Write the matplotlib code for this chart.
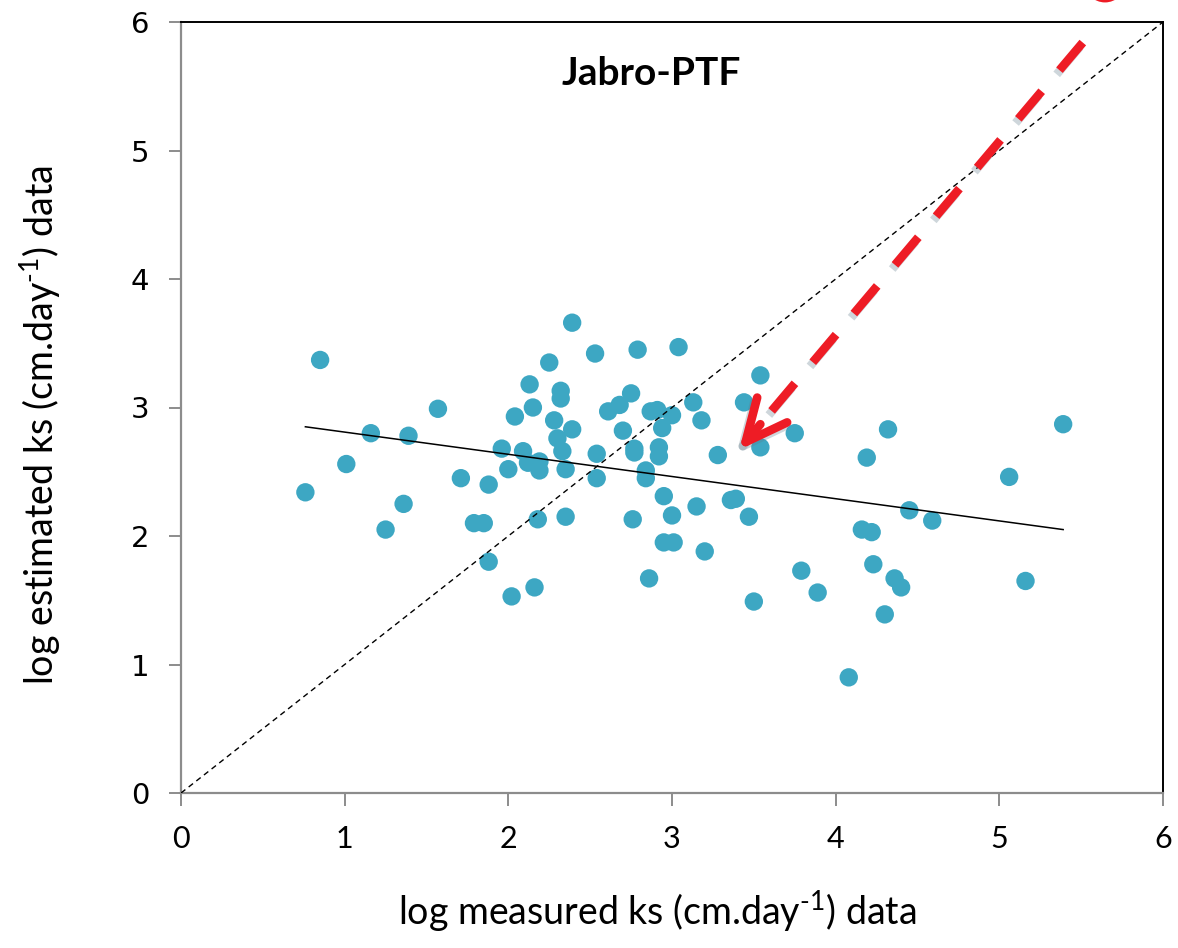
import matplotlib.pyplot as plt
import matplotlib.patheffects as pe
from matplotlib.patches import Ellipse
import numpy as np

plt.rcParams['mathtext.fontset'] = 'custom'
plt.rcParams['mathtext.rm'] = 'Lato'

# log measured ks (x) vs log estimated ks (y)
measured = [0.76, 0.85, 1.01, 1.16, 1.25, 1.36, 1.39, 1.57, 1.71, 1.79,
            1.85, 1.88, 1.88, 1.96, 2.00, 2.04, 2.02, 2.09, 2.12, 2.13,
            2.15, 2.16, 2.18, 2.19, 2.19, 2.25, 2.28, 2.30, 2.32, 2.32,
            2.33, 2.35, 2.35, 2.39, 2.39, 2.53, 2.54, 2.54, 2.61, 2.68,
            2.70, 2.75, 2.76, 2.77, 2.77, 2.79, 2.84, 2.84, 2.86, 2.87,
            2.91, 2.92, 2.92, 2.94, 2.95, 2.95, 3.01, 3.00, 3.00, 3.04,
            3.13, 3.15, 3.18, 3.20, 3.28, 3.36, 3.39, 3.44, 3.47, 3.50,
            3.54, 3.54, 3.75, 3.79, 3.89, 4.08, 4.16, 4.19, 4.22, 4.23,
            4.30, 4.32, 4.36, 4.40, 4.45, 4.59, 5.06, 5.16, 5.39]
estimated = [2.34, 3.37, 2.56, 2.80, 2.05, 2.25, 2.78, 2.99, 2.45, 2.10,
             2.10, 2.40, 1.80, 2.68, 2.52, 2.93, 1.53, 2.66, 2.57, 3.18,
             3.00, 1.60, 2.13, 2.58, 2.51, 3.35, 2.90, 2.76, 3.13, 3.07,
             2.66, 2.52, 2.15, 2.83, 3.66, 3.42, 2.64, 2.45, 2.97, 3.02,
             2.82, 3.11, 2.13, 2.68, 2.65, 3.45, 2.51, 2.45, 1.67, 2.97,
             2.98, 2.69, 2.62, 2.84, 2.31, 1.95, 1.95, 2.16, 2.94, 3.47,
             3.04, 2.23, 2.90, 1.88, 2.63, 2.28, 2.29, 3.04, 2.15, 1.49,
             2.69, 3.25, 2.80, 1.73, 1.56, 0.90, 2.05, 2.61, 2.03, 1.78,
             1.39, 2.83, 1.67, 1.60, 2.20, 2.12, 2.46, 1.65, 2.87]

# trend line end points and 1:1 line
fit_x = [0.76, 5.39]
fit_y = [2.85, 2.05]
one_to_one = [0, 6]

ticks = [0, 1, 2, 3, 4, 5, 6]

fig = plt.figure(figsize=(11.78, 9.48), dpi=100)
ax = fig.add_axes([181 / 1178, (948 - 793) / 948, (1163 - 181) / 1178, (793 - 22) / 948])

ax.scatter(measured, estimated, s=175, color='#3da7c3', edgecolors='none', zorder=2)
ax.plot(fit_x, fit_y, color='black', lw=1.1, zorder=3)
ax.plot(one_to_one, one_to_one, color='black', lw=1.0, dashes=(4, 3), zorder=3)

ax.set_xlim(0, 6)
ax.set_ylim(0, 6)
ax.set_xticks(ticks)
ax.set_yticks(ticks)

for side in ['left', 'bottom']:
    ax.spines[side].set_color('#8c8c8c')
    ax.spines[side].set_linewidth(1.6)
for side in ['top', 'right']:
    ax.spines[side].set_color('black')
    ax.spines[side].set_linewidth(1.4)

ax.tick_params(axis='both', direction='out', length=9, width=1.4, color='#8c8c8c')
ax.tick_params(axis='x', pad=14, labelsize=22)
ax.tick_params(axis='y', pad=14, labelsize=21)
for lab in ax.get_xticklabels():
    lab.set_family('Lato')
for lab in ax.get_yticklabels():
    lab.set_family('DejaVu Sans')

ax.set_xlabel(r'log measured ks (cm.day$^{\text{-1}}$) data', family='Lato',
              fontsize=27, labelpad=26)
ax.xaxis.label.set_x(0.485)
ax.set_ylabel(r'log estimated ks (cm.day$^{\text{-1}}$) data', family='Lato',
              fontsize=27, labelpad=48)
ax.yaxis.label.set_y(0.477)

ax.text(2.875, 5.6, 'Jabro-PTF', family='Lato', fontweight='bold', fontsize=28,
        ha='center', va='center')

# red dashed arrow
shadow = [pe.SimpleLineShadow(offset=(-2, -3), shadow_color='#5f7a88', alpha=0.3),
          pe.Normal()]
ax.plot([5.51, 3.54], [5.84, 2.87], color='#ee1c25', lw=6.2, dashes=(4.2, 3.2),
        solid_capstyle='butt', path_effects=shadow, zorder=5)
ax.annotate('', xy=(3.41, 2.67), xytext=(3.54, 2.87),
            arrowprops=dict(arrowstyle='->,head_length=3.0,head_width=1.4',
                            color='#ee1c25', lw=6.2, mutation_scale=10,
                            shrinkA=0, shrinkB=0, path_effects=shadow),
            zorder=5)

# cut-off red mark at the top edge
fig.add_artist(Ellipse((1105 / 1178, 1 + 18 / 948), 36 / 1178, 36 / 948,
                       transform=fig.transFigure, fill=False, edgecolor='#ee1c25', lw=3.5))

fig.savefig('out.png', dpi=100)
